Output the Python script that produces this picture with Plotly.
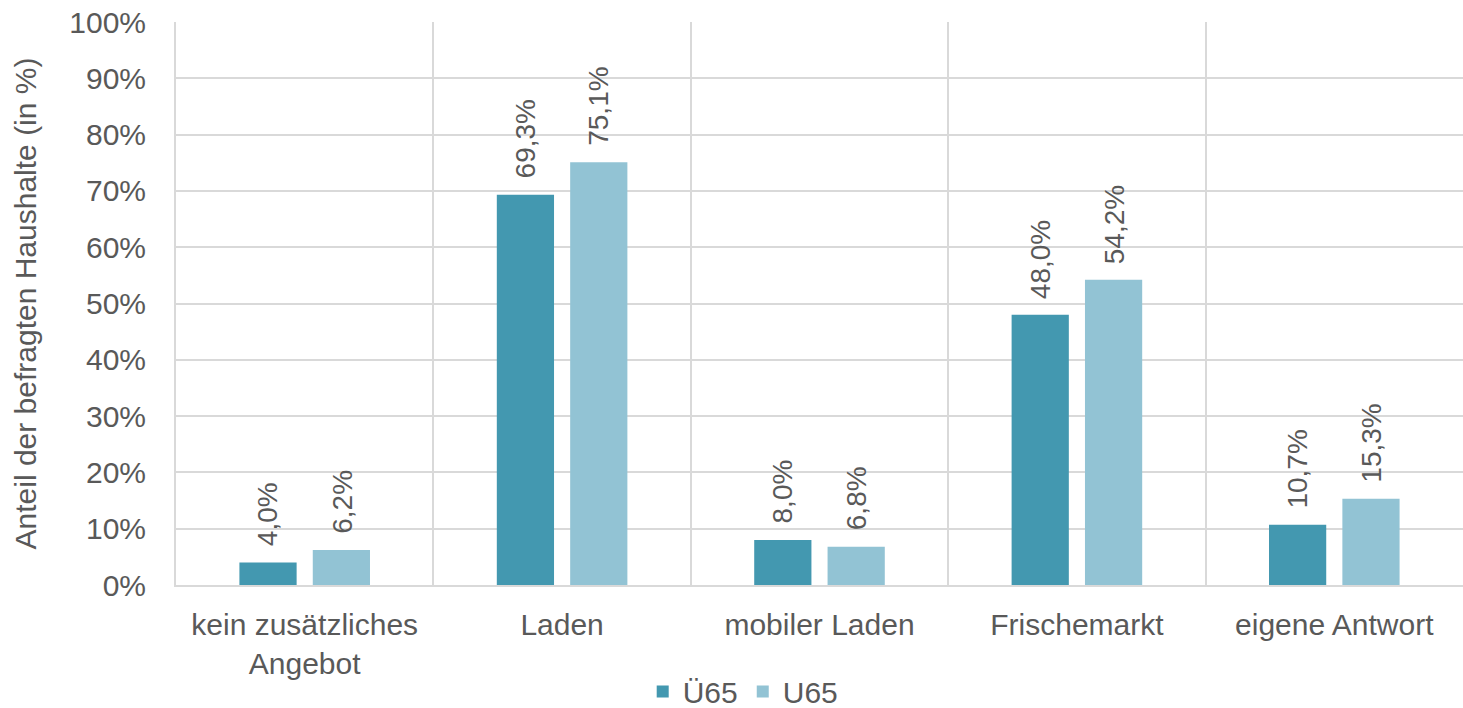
import plotly.graph_objects as go

categories = ["kein zusätzliches<br>Angebot", "Laden", "mobiler Laden", "Frischemarkt", "eigene Antwort"]
ue65 = [4.0, 69.3, 8.0, 48.0, 10.7]
u65 = [6.2, 75.1, 6.8, 54.2, 15.3]
series_names = ["Ü65", "U65"]
colors = ["#4398B0", "#92C3D4"]
y_ticks = [0, 10, 20, 30, 40, 50, 60, 70, 80, 90, 100]

FONT = "Liberation Sans"
TXT = "#595959"
GRID = "#D9D9D9"

fig = go.Figure()
for name, vals, col in zip(series_names, [ue65, u65], colors):
    fig.add_trace(go.Bar(x=categories, y=vals, name=name, marker=dict(color=col, line=dict(width=0))))

def fmt(v):
    return f"{v:.1f}".replace(".", ",") + "%"

for vals, shift in [(ue65, -37), (u65, 37)]:
    for c, v in zip(categories, vals):
        fig.add_annotation(x=c, y=v, xref="x", yref="y", text=fmt(v), showarrow=False,
                           textangle=-90, yanchor="bottom", xanchor="center",
                           xshift=shift, yshift=14,
                           font=dict(family=FONT, size=28, color=TXT))

fig.update_layout(
    width=1463, height=708,
    margin=dict(l=176, r=0, t=22, b=123, autoexpand=False),
    paper_bgcolor="white", plot_bgcolor="white",
    barmode="group", bargap=0.43, bargroupgap=0.22,
    font=dict(family=FONT, size=30, color=TXT),
    showlegend=True,
    legend=dict(orientation="h", xref="container", x=0.508, xanchor="center",
                yref="paper", y=-0.189, yanchor="middle",
                font=dict(family=FONT, size=30, color=TXT)),
)
fig.update_xaxes(type="category", tickson="boundaries", showgrid=True, gridcolor=GRID, gridwidth=2,
                 ticks="", showline=True, linecolor=GRID, linewidth=2, automargin=False,
                 tickfont=dict(family=FONT, size=30, color=TXT), ticklabelstandoff=12)
fig.update_yaxes(range=[0, 100], tickvals=y_ticks, ticktext=[f"{t}%" for t in y_ticks],
                 showgrid=True, gridcolor=GRID, gridwidth=2, zeroline=False, automargin=False,
                 showline=True, linecolor=GRID, linewidth=2, ticks="",
                 tickfont=dict(family=FONT, size=30, color=TXT), ticklabelstandoff=22,
                 title=dict(text="Anteil der befragten Haushalte (in %)",
                            font=dict(family=FONT, size=30, color=TXT), standoff=24))

fig.write_html("out.html", config={"displayModeBar": False},
               post_script="document.body.style.margin='0px';document.body.style.overflow='hidden';")
